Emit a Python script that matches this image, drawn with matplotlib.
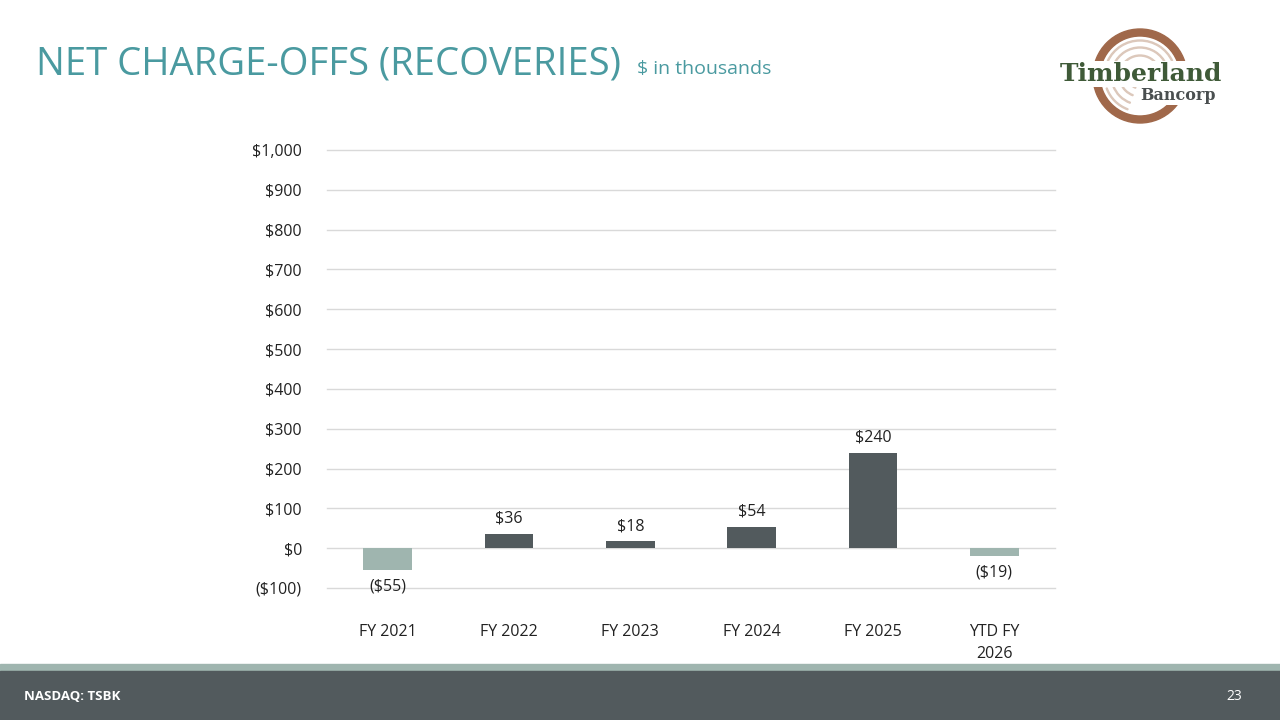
import matplotlib.pyplot as plt
from matplotlib.patches import Rectangle, Wedge

categories = ["FY 2021", "FY 2022", "FY 2023", "FY 2024", "FY 2025", "YTD FY\n2026"]
values = [-55, 36, 18, 54, 240, -19]
value_labels = ["($55)", "$36", "$18", "$54", "$240", "($19)"]
y_ticks = [-100, 0, 100, 200, 300, 400, 500, 600, 700, 800, 900, 1000]
y_tick_labels = ["($100)", "$0", "$100", "$200", "$300", "$400", "$500",
                 "$600", "$700", "$800", "$900", "$1,000"]

dark = "#525a5d"
sage = "#9fb5af"
teal = "#4a9aa0"
font = ["Open Sans", "DejaVu Sans"]
plt.rcParams['font.family'] = font

W, H = 1280, 720
fig = plt.figure(figsize=(12.8, 7.2), dpi=100)

# plot area in pixel coords
left, right, top, bottom = 327, 1055, 150, 588
ax = fig.add_axes([left / W, 1 - bottom / H, (right - left) / W, (bottom - top) / H])

colours = [dark if v >= 0 else sage for v in values]
x = list(range(len(values)))
ax.bar(x, values, width=0.4, color=colours, zorder=3)
ax.set_xlim(-0.5, len(values) - 0.5)
ax.set_ylim(-100, 1000)
ax.set_yticks(y_ticks, y_tick_labels)
ax.set_xticks(x, categories)
ax.grid(axis='y', color="#d9d9d9", linewidth=1, zorder=0)
for gl in ax.get_ygridlines():
    gl.set_clip_on(False)
for s in ax.spines.values():
    s.set_visible(False)
ax.tick_params(axis='both', length=0, labelsize=11.5, colors="#222222")
ax.tick_params(axis='y', pad=18)
ax.tick_params(axis='x', pad=26)
for lbl in ax.get_xticklabels():
    lbl.set_verticalalignment('top')
    lbl.set_linespacing(1.5)

for xi, v, t in zip(x, values, value_labels):
    if v >= 0:
        ax.annotate(t, (xi, v), xytext=(0, 5), textcoords='offset points',
                    ha='center', va='bottom', fontsize=11.5, color="#222222")
    else:
        ax.annotate(t, (xi, v), xytext=(0, -6), textcoords='offset points',
                    ha='center', va='top', fontsize=11.5, color="#222222")

# title
fig.text(36 / W, 1 - 64 / H, "NET CHARGE-OFFS (RECOVERIES)", fontsize=27.5,
         color=teal, va='center', ha='left')
fig.text(637 / W, 1 - 69 / H, "$ in thousands", fontsize=14, color=teal,
         va='center', ha='left')

# footer
fig.patches.append(Rectangle((0, 1 - 671 / H), 1, 7 / H, transform=fig.transFigure,
                             color=sage, zorder=0))
fig.patches.append(Rectangle((0, 0), 1, 1 - 671 / H, transform=fig.transFigure,
                             color=dark, zorder=0))
fig.text(24 / W, 1 - 697 / H, "NASDAQ: TSBK", fontsize=9.5, fontweight='bold',
         color="white", va='center')
fig.text(1242 / W, 1 - 697 / H, "23", fontsize=10, color="white", va='center', ha='right')

# logo
lax = fig.add_axes([1050 / W, 1 - 128 / H, 180 / W, 104 / H])
lax.set_xlim(-90, 90)
lax.set_ylim(-52, 52)
lax.set_aspect('equal')
lax.axis('off')
lax.add_patch(Wedge((0, 0), 47, 0, 360, width=7, color="#a0684a"))
for r in [13, 21, 29, 36]:
    lax.add_patch(Wedge((0, 0), r, 25, 155, width=1.0, color="#dcc8bb"))
    lax.add_patch(Wedge((0, 0), r, 200, 250, width=1.0, color="#dcc8bb"))
lax.text(1, 2, "Timberland", fontsize=18, fontweight='bold', family="DejaVu Serif",
         color="#3f5a38", ha='center', va='center',
         bbox=dict(boxstyle='square,pad=0.05', fc='white', ec='none'))
lax.text(38, -19, "Bancorp", fontsize=11.5, fontweight='bold', family="DejaVu Serif",
         color="#4a4f50", ha='center', va='center',
         bbox=dict(boxstyle='square,pad=0.1', fc='white', ec='none'))

fig.savefig("out.png", dpi=100)
